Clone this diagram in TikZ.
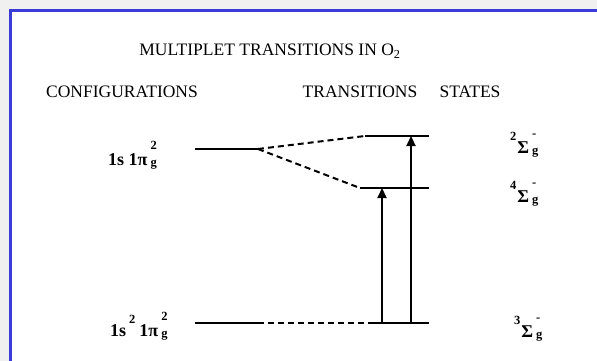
\documentclass[tikz,border=0pt]{standalone}
\usepackage{fontspec}
\setmainfont{Liberation Serif}
\usetikzlibrary{arrows.meta}

\definecolor{frameblue}{RGB}{58,58,214}
\definecolor{pagegray}{RGB}{240,240,240}

\tikzstyle{lvl}=[black, line width=2.8pt]
\tikzstyle{link}=[black, line width=2pt, dash pattern=on 6pt off 4pt]
\tikzstyle{trans}=[black, line width=2.2pt, -{Triangle[width=9pt,length=10pt]}]

% stacked scripts: upper #1, lower #2
\newcommand{\stk}[2]{\rlap{\raisebox{0.85em}{\fontsize{12.5}{12}\selectfont#1}}\raisebox{-0.1em}{\fontsize{12.5}{12}\selectfont#2}}
\newcommand{\lft}[1]{\raisebox{0.7em}{\fontsize{12.5}{12}\selectfont#1}\kern1pt}

\begin{document}
\begin{tikzpicture}[
	x=1pt, y=-1pt,
	every node/.style={inner sep=0pt, font=\fontsize{17.5}{20}\selectfont},
	term/.style={anchor=base west, font=\fontsize{18}{20}\selectfont\bfseries}
	]
	
	\useasboundingbox (0,0) rectangle (597,361);
	\fill[pagegray] (0,0) rectangle (597,361);
	\filldraw[fill=white, draw=frameblue, line width=3pt] (10.5,10.5) rectangle (620,390);
	
	% Headings
	\node (title) at (270,51) {MULTIPLET TRANSITIONS IN O\textsubscript{2}};
	\node (configs) at (122,92) {CONFIGURATIONS};
	\node (transits) at (360,92) {TRANSITIONS};
	\node (states) at (470,92) {STATES};
	
	% Levels: configurations on the left, states on the right
	\coordinate (c1l) at (195,149); \coordinate (c1r) at (258,149);
	\coordinate (c0l) at (195,323); \coordinate (c0r) at (258,323);
	\coordinate (s2l) at (365,136); \coordinate (s2r) at (429,136);
	\coordinate (s4l) at (360,188); \coordinate (s4r) at (429,188);
	\coordinate (s3l) at (368,323); \coordinate (s3r) at (429,323);
	
	\foreach \p/\q in {c1l/c1r, c0l/c0r, s2l/s2r, s4l/s4r, s3l/s3r} {
		\draw[lvl] (\p) -- (\q);
	}
	\foreach \p/\q in {c1r/s2l, c1r/s4l, c0r/s3l} {
		\draw[link] (\p) -- (\q);
	}
	
	% Transitions from the ground state
	\coordinate (a4) at (382,323);
	\coordinate (a2) at (411,323);
	\draw[trans] (a4) -- (a4 |- s4l);
	\draw[trans] (a2) -- (a2 |- s2l);
	
	% Labels
	\node[term] (cfgup) at (108,165) {1s 1π\,\stk{2}{g}};
	\node[term] (cfgdown) at (110,336) {1s\,\lft{2}\,1π\,\stk{2}{g}};
	\node[term] (st2) at (510,153) {\lft{2}Σ\,\stk{-}{g}};
	\node[term] (st4) at (510,202) {\lft{4}Σ\,\stk{-}{g}};
	\node[term] (st3) at (514,337) {\lft{3}Σ\,\stk{-}{g}};
	
\end{tikzpicture}
\end{document}
